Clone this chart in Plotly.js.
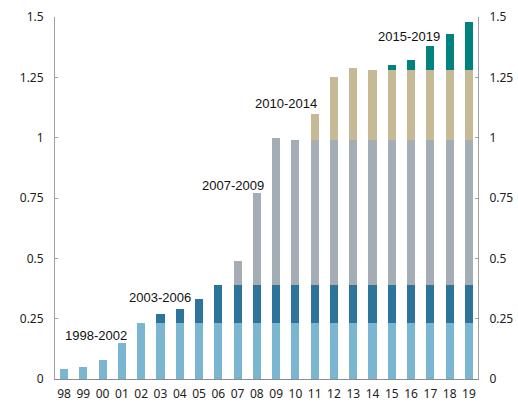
<!DOCTYPE html>
<html>
<head>
<meta charset="utf-8">
<script src="https://cdn.plot.ly/plotly-3.0.1.min.js"></script>
<style>html,body{margin:0;padding:0;background:#fff;}#chart{width:518px;height:406px;}</style>
</head>
<body>
<div id="chart"></div>
<script>
const years = ["98","99","00","01","02","03","04","05","06","07","08","09","10","11","12","13","14","15","16","17","18","19"];
const s1998_2002 = [0.04,0.05,0.08,0.15,0.23,0.23,0.23,0.23,0.23,0.23,0.23,0.23,0.23,0.23,0.23,0.23,0.23,0.23,0.23,0.23,0.23,0.23];
const s2003_2006 = [0,0,0,0,0,0.04,0.06,0.10,0.16,0.16,0.16,0.16,0.16,0.16,0.16,0.16,0.16,0.16,0.16,0.16,0.16,0.16];
const s2007_2009 = [0,0,0,0,0,0,0,0,0,0.10,0.38,0.61,0.60,0.60,0.60,0.60,0.60,0.60,0.60,0.60,0.60,0.60];
const s2010_2014 = [0,0,0,0,0,0,0,0,0,0,0,0,0,0.11,0.26,0.30,0.29,0.29,0.29,0.29,0.29,0.29];
const s2015_2019 = [0,0,0,0,0,0,0,0,0,0,0,0,0,0,0,0,0,0.02,0.04,0.10,0.15,0.20];
const seriesNames = ["1998-2002","2003-2006","2007-2009","2010-2014","2015-2019"];
const colors = ["#7bb6d0","#2c7499","#a5adb4","#c5ba95","#00827f"];
const labelPos = [[1.66,0.18],[4.98,0.337],[8.76,0.80],[11.53,1.14],[17.91,1.42]];

const allSeries = [s1998_2002,s2003_2006,s2007_2009,s2010_2014,s2015_2019];
const traces = allSeries.map((s,i)=>({
  type:'bar', x: years, y: s, name: seriesNames[i],
  marker:{color: colors[i], line:{width:0}}, hoverinfo:'none'
}));
// invisible helper trace so the right-hand axis is drawn
traces.push({type:'scatter', mode:'markers', x:[years[0]], y:[0], yaxis:'y2',
  marker:{opacity:0, size:1}, hoverinfo:'none', showlegend:false});

const tickFont = {family:'"Noto Sans", "Open Sans", sans-serif', size:12, color:'#222'};
const annotations = seriesNames.map((n,i)=>({
  x: labelPos[i][0], y: labelPos[i][1], xref:'x', yref:'y', text:n, showarrow:false,
  font:{family:'"Liberation Sans", Arial, sans-serif', size:13, color:'#111'},
  xanchor:'center', yanchor:'middle'
}));

const yTicks = [0,0.25,0.5,0.75,1,1.25,1.5];
const yText = ["0","0.25","0.5","0.75","1","1.25","1.5"];

const axisY = {range:[0,1.5], tickvals:yTicks, ticktext:yText, showgrid:false, zeroline:false,
    showline:true, linecolor:'#a0a0a0', linewidth:1, ticks:'inside', ticklen:3, tickcolor:'#a0a0a0',
    tickfont:tickFont, ticklabelstandoff:8, fixedrange:true};

const layout = {
  width:518, height:406,
  margin:{l:55, r:40, t:17, b:27, pad:0},
  barmode:'stack', bargap:0.58,
  showlegend:false,
  paper_bgcolor:'#fff', plot_bgcolor:'#fff',
  xaxis:{type:'category', range:[-0.47,21.47], showgrid:false, zeroline:false,
    showline:true, linecolor:'#8c8c8c', linewidth:1, ticks:'', tickfont:tickFont,
    ticklabelstandoff:4},
  yaxis: Object.assign({}, axisY),
  yaxis2: Object.assign({}, axisY, {overlaying:'y', side:'right'}),
  annotations: annotations
};

Plotly.newPlot('chart', traces, layout, {staticPlot:true, displayModeBar:false});
</script>
</body>
</html>
